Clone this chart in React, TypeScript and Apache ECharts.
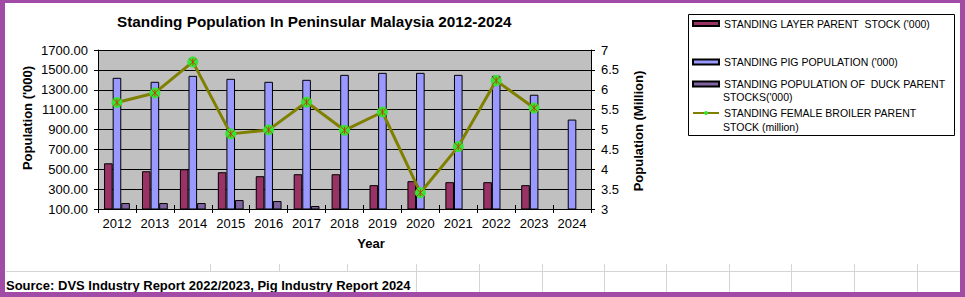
import React, { useEffect, useRef } from "react";
import * as echarts from "echarts";

const years = ["2012", "2013", "2014", "2015", "2016", "2017", "2018", "2019", "2020", "2021", "2022", "2023", "2024"];
const layerParent = [560, 480, 500, 470, 430, 450, 450, 340, 380, 370, 370, 340, null];
const pigPopulation = [1420, 1380, 1440, 1410, 1380, 1400, 1450, 1470, 1470, 1450, 1440, 1250, 1000];
const duckParent = [160, 160, 160, 190, 180, 130, null, null, null, null, null, null, null];
const broilerParent = [5.68, 5.92, 6.7, 4.89, 4.99, 5.69, 4.98, 5.44, 3.41, 4.57, 6.23, 5.54, null];

const NAME_LAYER = "STANDING LAYER PARENT  STOCK ('000)";
const NAME_PIG = "STANDING PIG POPULATION ('000)";
const NAME_DUCK = "STANDING POPULATION OF  DUCK PARENT STOCKS('000)";
const NAME_BROILER = "STANDING FEMALE BROILER PARENT STOCK (million)";

const TITLE = "Standing Population In Peninsular Malaysia 2012-2024";
const SOURCE = "Source: DVS Industry Report 2022/2023, Pig Industry Report 2024";

const FONT = "'Liberation Sans', Arial, sans-serif";
const gridXs = [210, 279, 347, 416, 479, 542, 604, 666, 729, 791, 854, 917];

export default function App() {
  const ref = useRef<HTMLDivElement>(null);
  useEffect(() => {
    if (!ref.current) return;
    const chart = echarts.init(ref.current, null, { renderer: "svg" });
    const legendText = { fontSize: 10.5, fontFamily: FONT, color: "#000", lineHeight: 13 };
    const legendBase = {
      orient: "vertical" as const,
      left: 692,
      itemWidth: 26,
      itemHeight: 5,
      padding: 0,
      selectedMode: false,
      textStyle: legendText,
    };
    const sheetLines: any[] = [
      { type: "line", shape: { x1: 6, y1: 271.5, x2: 960, y2: 271.5 }, style: { stroke: "#D4D4D4", lineWidth: 1 }, z: 1 },
    ];
    gridXs.forEach((x) => {
      sheetLines.push({
        type: "line",
        shape: { x1: x + 0.5, y1: 264, x2: x + 0.5, y2: x < 412 ? 271 : 292 },
        style: { stroke: "#D4D4D4", lineWidth: 1 },
        z: 1,
      });
    });
    chart.setOption({
      animation: false,
      backgroundColor: "#fff",
      textStyle: { fontFamily: FONT },
      title: {
        text: TITLE,
        left: 117,
        top: 14,
        padding: 0,
        textStyle: { fontSize: 15.3, fontWeight: "bold", color: "#000", fontFamily: FONT },
      },
      legend: [
        { ...legendBase, top: 17, data: [{ name: NAME_LAYER, icon: "rect" }] },
        { ...legendBase, top: 55.5, data: [{ name: NAME_PIG, icon: "rect" }] },
        {
          ...legendBase,
          top: 77.5,
          data: [{ name: NAME_DUCK, icon: "rect" }],
          formatter: () => "STANDING POPULATION OF  DUCK PARENT",
        },
        {
          ...legendBase,
          top: 106.5,
          data: [NAME_BROILER],
          formatter: () => "STANDING FEMALE BROILER PARENT",
        },
      ],
      grid: {
        left: 98,
        right: 374,
        top: 50,
        bottom: 88,
        show: true,
        backgroundColor: "#C0C0C0",
        borderWidth: 0,
      },
      xAxis: [
        {
          type: "category",
          data: years,
          boundaryGap: true,
          axisLine: { lineStyle: { color: "#000", width: 1 } },
          axisTick: { show: true, inside: false, length: 4, lineStyle: { color: "#000" } },
          axisLabel: { color: "#000", fontSize: 13, margin: 8, fontFamily: FONT },
        },
        {
          type: "category",
          data: years,
          boundaryGap: true,
          position: "bottom",
          axisLine: { show: false },
          axisTick: { show: true, inside: true, length: 4, lineStyle: { color: "#000" } },
          axisLabel: { show: false },
        },
      ],
      yAxis: [
        {
          type: "value",
          min: 100,
          max: 1700,
          interval: 200,
          axisLine: { show: true, lineStyle: { color: "#000" } },
          axisTick: { show: true, length: 4, lineStyle: { color: "#000" } },
          axisLabel: { color: "#000", fontSize: 13, margin: 10, fontFamily: FONT, formatter: (v: number) => v.toFixed(2) },
          splitLine: { show: true, lineStyle: { color: "#000", width: 1 } },
        },
        {
          type: "value",
          min: 3,
          max: 7,
          interval: 0.5,
          position: "right",
          axisLine: { show: true, lineStyle: { color: "#000" } },
          axisTick: { show: true, length: 4, lineStyle: { color: "#000" } },
          axisLabel: { color: "#000", fontSize: 13, margin: 10, fontFamily: FONT },
          splitLine: { show: false },
        },
      ],
      series: [
        {
          name: NAME_LAYER,
          type: "bar",
          data: layerParent,
          barWidth: 8.6,
          barGap: "0%",
          itemStyle: { color: "#993366", borderColor: "#000", borderWidth: 1 },
        },
        {
          name: NAME_PIG,
          type: "bar",
          data: pigPopulation,
          barWidth: 8.6,
          barGap: "0%",
          itemStyle: { color: "#9999FF", borderColor: "#000", borderWidth: 1 },
        },
        {
          name: NAME_DUCK,
          type: "bar",
          data: duckParent,
          barWidth: 8.6,
          barGap: "0%",
          itemStyle: { color: "#8064A2", borderColor: "#000", borderWidth: 1 },
        },
        {
          name: NAME_BROILER,
          type: "line",
          yAxisIndex: 1,
          data: broilerParent,
          symbol: "circle",
          symbolSize: 10,
          lineStyle: { color: "#808000", width: 3 },
          itemStyle: { color: "#33E633", borderColor: "#33E633" },
          z: 5,
        },
        {
          name: "broiler-marker",
          type: "scatter",
          yAxisIndex: 1,
          data: broilerParent,
          symbol: "path://M0,0L10,10M10,0L0,10M5,0L5,10",
          symbolSize: 7,
          itemStyle: { color: "transparent", borderColor: "#E02000", borderWidth: 1 },
          z: 6,
          silent: true,
        },
      ],
      graphic: [
        ...sheetLines,
        {
          type: "rect",
          shape: { x: 688.5, y: 14.5, width: 266, height: 121 },
          style: { fill: "#fff", stroke: "#000", lineWidth: 1 },
          z: -1,
        },
        {
          type: "text",
          x: 723,
          y: 97,
          style: { text: "STOCKS('000)", font: `10.5px ${FONT}`, fill: "#000", align: "left", verticalAlign: "middle" },
        },
        {
          type: "text",
          x: 723,
          y: 127,
          style: { text: "STOCK (million)", font: `10.5px ${FONT}`, fill: "#000", align: "left", verticalAlign: "middle" },
        },
        {
          type: "text",
          x: 27,
          y: 118,
          rotation: Math.PI / 2,
          style: { text: "Population ('000)", font: `bold 13px ${FONT}`, fill: "#000", align: "center", verticalAlign: "middle" },
        },
        {
          type: "text",
          x: 638,
          y: 131,
          rotation: Math.PI / 2,
          style: { text: "Population (Million)", font: `bold 13px ${FONT}`, fill: "#000", align: "center", verticalAlign: "middle" },
        },
        {
          type: "text",
          x: 371,
          y: 243,
          style: { text: "Year", font: `bold 13px ${FONT}`, fill: "#000", align: "center", verticalAlign: "middle" },
        },
        {
          type: "text",
          x: 6,
          y: 285,
          style: { text: SOURCE, font: `bold 13px ${FONT}`, fill: "#000", align: "left", verticalAlign: "middle" },
          z: 10,
        },
        { type: "rect", shape: { x: 0, y: 0, width: 965, height: 3 }, style: { fill: "#A24BA6" }, z: 20 },
        { type: "rect", shape: { x: 0, y: 292, width: 965, height: 5 }, style: { fill: "#A24BA6" }, z: 20 },
        { type: "rect", shape: { x: 0, y: 0, width: 5, height: 297 }, style: { fill: "#A24BA6" }, z: 20 },
        { type: "rect", shape: { x: 960, y: 0, width: 5, height: 297 }, style: { fill: "#A24BA6" }, z: 20 },
      ],
    });
    return () => chart.dispose();
  }, []);
  return (
    <div
      ref={ref}
      style={{ position: "absolute", left: 0, top: 0, width: 965, height: 297 }}
    />
  );
}
